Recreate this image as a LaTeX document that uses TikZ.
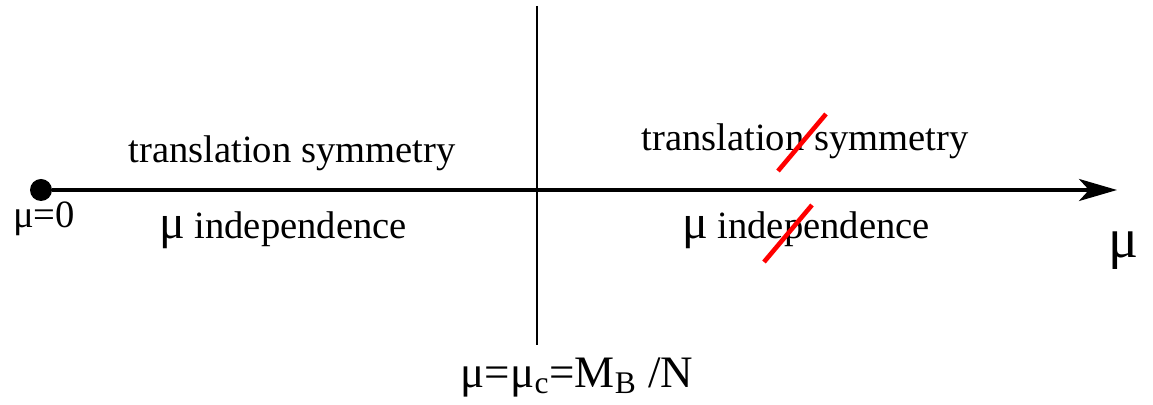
\documentclass[tikz,border=0pt]{standalone}
\usepackage{fontspec}
\setmainfont{Liberation Serif}
\usetikzlibrary{arrows.meta}
\begin{document}
\begin{tikzpicture}[x=0.5pt,y=-0.5pt,
  lbl/.style={font=\fontsize{19.3}{22}\selectfont, inner sep=0},
  big/.style={font=\fontsize{22.5}{26}\selectfont, inner sep=0},
  strike/.style={red, line width=2.3pt},
  axis/.style={line width=1.8pt, -{Stealth[length=19pt,width=11pt,inset=5pt]}},
  divider/.style={line width=0.8pt}]
\useasboundingbox (0,0) rectangle (1153,405);
% axis
\node[circle, fill, inner sep=0, minimum size=11pt] (origin) at (41,190) {};
\coordinate (tip) at (1117,190);
\draw[axis] (origin) -- (tip);
% divider
\coordinate (vtop) at (537,6);
\coordinate (vbot) at (537,345);
\draw[divider] (vtop) -- (vbot);
% labels
\node[lbl] (mu0) at (44,219) {μ=0};
\node[lbl] (tsl) at (292,153) {translation symmetry};
\node[lbl] (mil) at (283,230) {{\fontsize{24}{24}\selectfont μ} independence};
\node[lbl] (tsr) at (805,141) {translation symmetry};
\node[lbl] (mir) at (806,230) {{\fontsize{24}{24}\selectfont μ} independence};
\node[inner sep=0, font=\fontsize{28}{30}\selectfont] (muaxis) at (1124,251) {μ};
\node[big] (crit) at (577,377) {μ=μ\textsubscript{c}=M\textsubscript{B} /N};
% strikes
\coordinate (s1a) at (778,171);
\coordinate (s1b) at (826,114);
\coordinate (s2a) at (764,262);
\coordinate (s2b) at (812,205);
\draw[strike] (s1a) -- (s1b);
\draw[strike] (s2a) -- (s2b);
\end{tikzpicture}
\end{document}
